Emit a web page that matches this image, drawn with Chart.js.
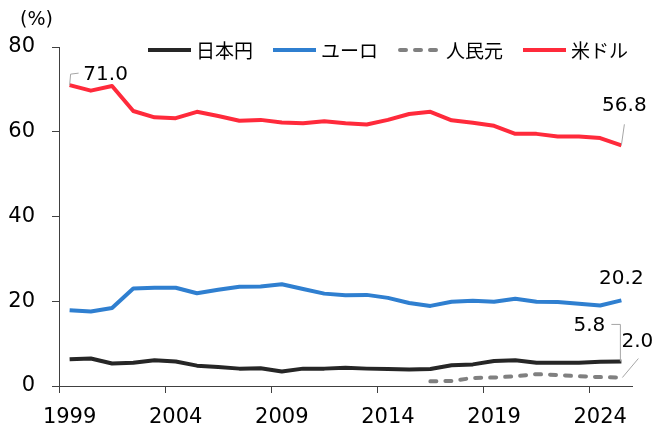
<!DOCTYPE html>
<html>
<head>
<meta charset="utf-8">
<script src="https://cdn.jsdelivr.net/npm/chart.js@4"></script>
<style>
  html, body { margin: 0; padding: 0; background: #fff; }
  #wrap { width: 654px; height: 430px; position: relative; }
</style>
</head>
<body>
<div id="wrap"><canvas id="shareChart"></canvas></div>
<script>
const years = ['1999','2000','2001','2002','2003','2004','2005','2006','2007','2008','2009','2010','2011','2012',
  '2013','2014','2015','2016','2017','2018','2019','2020','2021','2022','2023','2024','2025']
const yen = [6.3,6.5,5.3,5.5,6.1,5.8,4.8,4.5,4.1,4.2,3.4,4.1,4.1,4.3,4.1,4.0,3.9,4.0,4.9,5.1,5.9,6.1,5.5,5.5,5.5,5.7,5.8]
const euro = [17.9,17.6,18.4,23.0,23.2,23.2,21.9,22.7,23.4,23.5,24.0,22.9,21.8,21.4,21.5,20.8,19.6,18.9,19.9,20.1,19.9,20.6,19.9,19.8,19.4,19.0,20.2]
const yuan = [null,null,null,null,null,null,null,null,null,null,null,null,null,null,null,null,null,
  1.1,1.2,1.9,2.0,2.3,2.8,2.6,2.3,2.1,2.0]
const usd = [71.0,69.7,70.8,64.9,63.4,63.2,64.7,63.7,62.6,62.8,62.2,62.0,62.5,62.0,61.7,62.8,64.2,64.7,62.7,62.1,61.4,59.5,59.5,58.9,58.9,58.5,56.8]
const seriesNames = ['日本円', 'ユーロ', '人民元', '米ドル']
const yTicks = [0, 20, 40, 60, 80]

const FONT = '"DejaVu Sans", Verdana, sans-serif'
const JP = '"Noto Sans CJK JP", sans-serif'
const AXIS = '#404040'

// data labels: [dataset, index, dx, dy, leader points relative to the mark]
const callouts = [
  { ds: 3, idx: 0, dx: 36, dy: -10, align: 'center', leader: [[0, 0], [1, -11], [9, -12]] },
  { ds: 3, idx: 26, dx: 3, dy: -40, align: 'center', leader: [[0, 0], [3, -21]] },
  { ds: 1, idx: 26, dx: 0, dy: -22, align: 'center', leader: null },
  { ds: 0, idx: 26, dx: -32, dy: -36, align: 'center', leader: [[-1, 0], [-1, -37], [-10, -37]] },
  { ds: 2, idx: 26, dx: 16, dy: -36, align: 'center', leader: [[1, 0], [17, -19]] }
]

const calloutPlugin = {
  id: 'callouts',
  afterDatasetsDraw(chart) {
    const ctx = chart.ctx
    ctx.save()
    callouts.forEach(c => {
      const pt = chart.getDatasetMeta(c.ds).data[c.idx]
      const val = chart.data.datasets[c.ds].data[c.idx]
      if (c.leader) {
        ctx.strokeStyle = '#a6a6a6'
        ctx.lineWidth = 1
        ctx.beginPath()
        c.leader.forEach((p, i) => {
          if (i === 0) ctx.moveTo(pt.x + p[0], pt.y + p[1])
          else ctx.lineTo(pt.x + p[0], pt.y + p[1])
        })
        ctx.stroke()
      }
      ctx.fillStyle = '#000'
      ctx.font = '20px ' + FONT
      ctx.textAlign = c.align
      ctx.textBaseline = 'middle'
      ctx.fillText(val.toFixed(1), pt.x + c.dx, pt.y + c.dy)
    })

    // unit label
    ctx.font = '19px ' + FONT
    ctx.textAlign = 'left'
    ctx.fillText('(%)', 20, 20)

    // legend
    let x = 148
    const y = 50
    ctx.font = '19px ' + JP
    chart.data.datasets.forEach(ds => {
      ctx.strokeStyle = ds.borderColor
      ctx.lineWidth = 4
      ctx.lineCap = ds.borderDash ? 'round' : 'butt'
      ctx.setLineDash(ds.borderDash || [])
      ctx.beginPath()
      ctx.moveTo(x + (ds.borderDash ? 2 : 0), y)
      ctx.lineTo(x + 43, y)
      ctx.stroke()
      ctx.setLineDash([])
      ctx.fillStyle = '#000'
      ctx.fillText(ds.label, x + 48, y + 1)
      x += 48 + ctx.measureText(ds.label).width + 20
    })
    ctx.restore()
  }
}

const lineDs = (label, data, color, dash) => ({
  label: label,
  data: data,
  borderColor: color,
  backgroundColor: color,
  borderWidth: 4,
  borderDash: dash,
  borderCapStyle: dash ? 'round' : 'butt',
  borderJoinStyle: 'round',
  pointRadius: 0,
  tension: 0,
  spanGaps: false
})

new Chart(document.getElementById('shareChart'), {
  type: 'line',
  data: {
    labels: years,
    datasets: [
      lineDs(seriesNames[0], yen, '#262626'),
      lineDs(seriesNames[1], euro, '#2f7fd0'),
      lineDs(seriesNames[2], yuan, '#808080', [6, 9]),
      lineDs(seriesNames[3], usd, '#ff2a3b')
    ]
  },
  options: {
    responsive: true,
    maintainAspectRatio: false,
    animation: false,
    layout: { padding: { top: 47, right: 22, left: 0, bottom: 0 } },
    plugins: {
      legend: { display: false },
      tooltip: { enabled: false }
    },
    scales: {
      x: {
        type: 'category',
        offset: true,
        afterFit: s => { s.height = 44 },
        border: { display: true, color: AXIS, width: 1 },
        grid: {
          offset: true,
          drawOnChartArea: false,
          drawTicks: true,
          tickLength: 7,
          color: c => (c.index % 5 === 0 && c.index < years.length) ? AXIS : 'rgba(0,0,0,0)'
        },
        ticks: {
          autoSkip: false,
          maxRotation: 0,
          minRotation: 0,
          padding: 12,
          color: '#000',
          font: { family: FONT, size: 21 },
          callback: (v, i) => (i % 5 === 0 ? years[i] : '')
        }
      },
      y: {
        min: yTicks[0],
        max: yTicks[yTicks.length - 1],
        afterFit: s => { s.width = 59 },
        afterBuildTicks: s => { s.ticks = yTicks.map(v => ({ value: v })) },
        border: { display: true, color: AXIS, width: 1 },
        grid: { drawOnChartArea: false, drawTicks: true, tickLength: 7, color: AXIS },
        ticks: {
          padding: 17,
          color: '#000',
          font: { family: FONT, size: 21 }
        }
      }
    }
  },
  plugins: [calloutPlugin]
})
</script>
</body>
</html>
